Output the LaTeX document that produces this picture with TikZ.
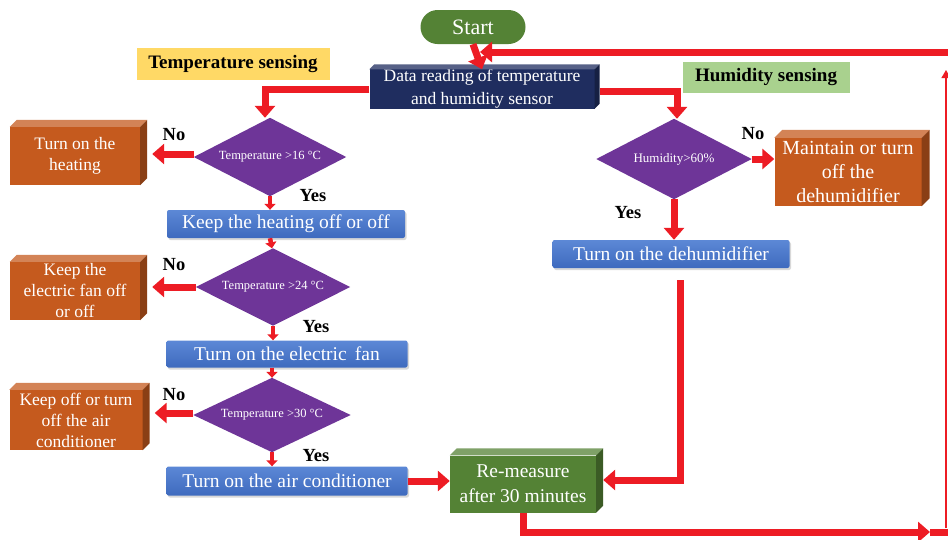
\documentclass[tikz,border=0pt]{standalone}
\usepackage{fontspec}
\setmainfont{Liberation Serif}
\usetikzlibrary{shapes.geometric,arrows.meta,calc,shadows}
\definecolor{redc}{RGB}{237,28,36}
\definecolor{greenc}{RGB}{84,130,53}
\definecolor{navyc}{RGB}{31,45,95}
\definecolor{orangec}{RGB}{197,90,30}
\definecolor{purplec}{RGB}{110,53,152}
\definecolor{bluec}{RGB}{62,106,190}
\definecolor{bluelt}{RGB}{92,136,214}
\definecolor{yellowc}{RGB}{255,217,102}
\definecolor{lgreenc}{RGB}{169,209,142}
\begin{document}
\begin{tikzpicture}[x=1pt,y=-1pt,
  boxtxt/.style={text=white,align=center,inner sep=0pt},
  cube/.style={boxtxt,font=\fontsize{17.5}{21}\selectfont},
  orangebox/.style={cube,fill=orangec},
  bluebox/.style={boxtxt,font=\fontsize{19.5}{21}\selectfont,top color=bluelt,bottom color=bluec,rounded corners=2,drop shadow={opacity=0.3,shadow xshift=1.5pt,shadow yshift=-2pt}},
  decision/.style={rectangle,text=white,inner sep=0pt,font=\fontsize{12.5}{14}\selectfont},
  tag/.style={font=\bfseries\fontsize{19}{22}\selectfont,inner sep=0pt},
  yn/.style={font=\bfseries\fontsize{18.5}{20}\selectfont,inner sep=0pt},
  ra/.style={draw=redc,line width=7,-{Triangle[width=20,length=12]}},
  sa/.style={draw=redc,line width=4.5,-{Triangle[width=11,length=6]}},
]
\useasboundingbox (0,0) rectangle (948,539);
\fill[white] (0,0) rectangle (948,539);

% labels
\node[tag,fill=yellowc,minimum width=193,minimum height=32] (tsens) at (233,64) {Temperature sensing};
\node[tag,fill=lgreenc,minimum width=167,minimum height=31] (hsens) at (766,77) {Humidity sensing};

% start and data
\node[boxtxt,fill=greenc,rounded corners=17,minimum width=105,minimum height=34,font=\fontsize{22}{24}\selectfont] (start) at (473,27) {Start};
\node[cube,fill=navyc,minimum width=225,minimum height=38,font=\fontsize{17.5}{23}\selectfont] (data) at (482,89) {Data reading of temperature\\and humidity sensor};

% decisions (diamonds filled below)
\node[decision,minimum width=152,minimum height=78] (d1) at (270,157) {};
\node[decision,minimum width=154,minimum height=77] (d2) at (273,287) {};
\node[decision,minimum width=157,minimum height=74] (d3) at (272,415) {};
\node[decision,minimum width=155,minimum height=80] (dh) at (674,159) {};
\foreach \n in {d1,d2,d3,dh}{
  \fill[purplec] (\n.north) -- (\n.east) -- (\n.south) -- (\n.west) -- cycle;
}
\node[decision] (t1) at (d1.center) {Temperature >16 °C};
\node[decision] (t2) at (d2.center) {Temperature >24 °C};
\node[decision] (t3) at (d3.center) {Temperature >30 °C};
\node[decision,font=\fontsize{13}{15}\selectfont] (th) at (dh.center) {Humidity>60\%};

% temperature branch
\node[orangebox,minimum width=130,minimum height=58] (heat) at (75,156) {Turn on the\\heating};
\node[bluebox,minimum width=238,minimum height=28] (heatoff) at (286,224) {Keep the heating off or off};

\node[orangebox,minimum width=130,minimum height=58] (fanoff) at (75,291) {Keep the\\electric fan off\\or off};
\node[bluebox,minimum width=241,minimum height=27] (fan) at (287,354) {Turn on the electric\, fan};

\node[orangebox,minimum width=133,minimum height=60] (acoff) at (76,420) {Keep off or turn\\off the air\\conditioner};
\node[bluebox,minimum width=241,minimum height=29] (ac) at (287,481) {Turn on the air conditioner};

\node[cube,fill=greenc,minimum width=146,minimum height=57,font=\fontsize{19.5}{25}\selectfont] (re) at (523,484) {Re-measure\\after 30 minutes};

% humidity branch
\node[orangebox,minimum width=147,minimum height=68,font=\fontsize{20}{24}\selectfont] (maint) at (848,172) {Maintain or turn\\off the\\dehumidifier};
\node[bluebox,minimum width=237,minimum height=28] (dehum) at (671,254) {Turn on the dehumidifier};

% cube faces
\foreach \n/\c/\d in {heat/orangec/7,fanoff/orangec/7,acoff/orangec/7,maint/orangec/8,re/greenc/7,data/navyc/5}{
  \fill[\c!75!white] (\n.north west) -- ++(\d,-\d) -- ($(\n.north east)+(\d,-\d)$) -- (\n.north east) -- cycle;
  \fill[\c!70!black] (\n.north east) -- ++(\d,-\d) -- ($(\n.south east)+(\d,-\d)$) -- (\n.south east) -- cycle;
}

% yes / no
\node[yn] (no1) at (174,135) {No};
\node[yn] (yes1) at (313,196) {Yes};
\node[yn] (no2) at (174,265) {No};
\node[yn] (yes2) at (316,327) {Yes};
\node[yn] (no3) at (174,395) {No};
\node[yn] (yes3) at (316,456) {Yes};
\node[yn] (noh) at (753,134) {No};
\node[yn] (yesh) at (628,213) {Yes};

% connectors
\coordinate (tr) at (948,52);
\coordinate (tj) at (480,52);
\draw[ra] (start.south) -- (data.north);
\draw[ra] (tr) -- (tj);
\draw[ra] (data.west) -| ($(d1.north)+(-5,0)$);
\draw[ra] ($(data.east)+(5,2)$) -| ($(dh.north)+(3,0)$);

\draw[ra] ($(d1.west)+(0,-3)$) -- ($(heat.east |- d1.west)+(12,-3)$);
\draw[ra] (d2.west) -- ($(fanoff.east |- d2.west)+(12,0)$);
\draw[ra] ($(d3.west)+(0,-2)$) -- ($(acoff.east |- d3.west)+(12,-2)$);
\draw[sa] (d1.south) -- (heatoff.north -| d1.south);
\draw[sa] (heatoff.south -| d1.south) -- ($(d2.north)+(-1,0)$);
\draw[sa] (d2.south) -- (fan.north -| d2.south);
\draw[sa] (fan.south -| d3.north) -- (d3.north);
\draw[sa] (d3.south) -- (ac.north -| d3.south);
\draw[ra] (ac.east) -- (re.west |- ac.east);

\draw[ra] (dh.east) -- (maint.west |- dh.east);
\draw[ra] (dh.south) -- (dehum.north -| dh.south);
\coordinate (hs) at ($(dehum.south)+(9,12)$);
\draw[ra] (hs) |- ($(re.east)+(7,-4)$);

\coordinate (br) at (930,532);
\draw[ra] (re.south) |- (br);
\fill[redc] (930,528.5) rectangle (948,535.5);
\coordinate (rb) at (946,528);
\coordinate (rt) at (946,70);
\draw[redc,line width=1.2,-{Triangle[width=9,length=8]}] (rb) -- (rt);
\end{tikzpicture}
\end{document}
